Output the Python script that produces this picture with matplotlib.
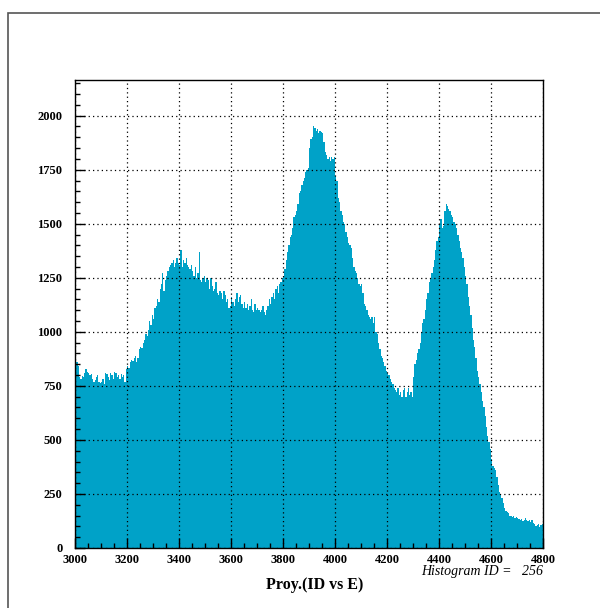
import numpy as np
import matplotlib.pyplot as plt
from matplotlib.patches import Rectangle

plt.rcParams["font.family"] = ["Liberation Serif", "DejaVu Serif"]

# histogram binning (5 units per bin, 3000 -> 4800)
x_min = 3000
x_max = 4800
bin_width = 5

# counts per bin, one row per 50 units
counts = [
    850, 860, 840, 790, 780, 795, 790, 810, 830, 815,        # 3000
    810, 800, 805, 780, 770, 775, 790, 800, 770, 765,        # 3050
    770, 780, 760, 810, 805, 790, 775, 810, 800, 780,        # 3100
    815, 810, 790, 800, 780, 805, 790, 800, 770, 830,        # 3150
    840, 835, 860, 870, 865, 880, 890, 860, 880, 920,        # 3200
    930, 925, 950, 960, 990, 980, 1010, 1050, 1030, 1080,    # 3250
    1060, 1110, 1120, 1150, 1140, 1200, 1220, 1270, 1190, 1240,  # 3300
    1260, 1280, 1300, 1310, 1320, 1330, 1300, 1320, 1340, 1320,  # 3350
    1310, 1380, 1300, 1330, 1320, 1340, 1310, 1300, 1290, 1310,  # 3400
    1280, 1260, 1300, 1250, 1270, 1370, 1240, 1230, 1250, 1260,  # 3450
    1230, 1250, 1240, 1200, 1250, 1210, 1190, 1200, 1230, 1180,  # 3500
    1170, 1190, 1180, 1150, 1190, 1170, 1140, 1150, 1110, 1120,  # 3550
    1160, 1140, 1120, 1150, 1180, 1140, 1160, 1170, 1130, 1110,  # 3600
    1140, 1110, 1130, 1100, 1120, 1150, 1100, 1090, 1130, 1100,  # 3650
    1110, 1100, 1090, 1100, 1120, 1090, 1080, 1100, 1120, 1150,  # 3700
    1130, 1160, 1180, 1150, 1200, 1210, 1180, 1220, 1230, 1250,  # 3750
    1260, 1290, 1330, 1370, 1400, 1440, 1450, 1480, 1530, 1540,  # 3800
    1560, 1590, 1640, 1650, 1680, 1700, 1710, 1740, 1750, 1760,  # 3850
    1850, 1890, 1900, 1950, 1945, 1930, 1940, 1920, 1930, 1925,  # 3900
    1920, 1880, 1830, 1820, 1800, 1810, 1790, 1810, 1800, 1810,  # 3950
    1720, 1700, 1620, 1600, 1560, 1540, 1510, 1500, 1460, 1440,  # 4000
    1410, 1400, 1390, 1340, 1300, 1280, 1270, 1250, 1220, 1210,  # 4050
    1220, 1180, 1130, 1120, 1100, 1080, 1070, 1060, 1070, 1040,  # 4100
    1070, 1000, 990, 950, 920, 890, 880, 860, 840, 820,          # 4150
    810, 800, 780, 770, 760, 740, 730, 720, 740, 710,            # 4200
    720, 700, 730, 740, 700, 720, 740, 710, 720, 700,            # 4250
    790, 850, 870, 900, 920, 950, 1000, 1040, 1060, 1100,        # 4300
    1150, 1180, 1230, 1250, 1270, 1300, 1330, 1380, 1420, 1440,  # 4350
    1500, 1520, 1480, 1490, 1560, 1590, 1580, 1570, 1560, 1540,  # 4400
    1530, 1510, 1500, 1480, 1450, 1420, 1390, 1370, 1340, 1300,  # 4450
    1260, 1220, 1160, 1120, 1080, 1020, 960, 930, 880, 820,      # 4500
    790, 760, 720, 680, 650, 610, 560, 520, 490, 460,            # 4550
    410, 380, 370, 360, 330, 290, 260, 245, 230, 210,            # 4600
    185, 170, 165, 160, 150, 150, 145, 150, 140, 145,            # 4650
    140, 135, 130, 135, 125, 130, 140, 130, 125, 130,            # 4700
    120, 130, 115, 110, 100, 105, 110, 95, 105, 110,             # 4750
]
edges = np.arange(x_min, x_max + bin_width, bin_width)

x_ticks = [3000, 3200, 3400, 3600, 3800, 4000, 4200, 4400, 4600, 4800]
y_ticks = [0, 250, 500, 750, 1000, 1250, 1500, 1750, 2000]
y_top = 2165

fig = plt.figure(figsize=(6, 6.08), dpi=100)

# canvas frame
fig.patches.append(Rectangle((8 / 600, -0.01), 1.0, 1 - 13 / 608 + 0.01,
                             transform=fig.transFigure, fill=False,
                             edgecolor='#555555', linewidth=1.2))

ax = fig.add_axes([75 / 600, 60 / 608, 468 / 600, 468 / 608])
ax.stairs(counts, edges, fill=True, color='#00a2c8', linewidth=0)

ax.set_xlim(x_min, x_max)
ax.set_ylim(0, y_top)
ax.set_xticks(x_ticks)
ax.set_yticks(y_ticks)
ax.set_xticks(np.arange(x_min, x_max + 1, 50), minor=True)
ax.set_yticks(np.arange(0, y_top, 50), minor=True)
ax.tick_params(which='both', direction='in', width=1.0, colors='black')
ax.tick_params(which='major', length=7)
ax.tick_params(which='minor', length=3.5)
ax.tick_params(axis='y', pad=9)
ax.tick_params(axis='x', pad=4)
for lbl in ax.get_xticklabels() + ax.get_yticklabels():
    lbl.set_fontweight('bold')
    lbl.set_fontsize(9)

ax.grid(True, which='major', linestyle=(0, (1, 2.5)), color='black', linewidth=0.9)
ax.set_axisbelow(False)
for s in ax.spines.values():
    s.set_linewidth(1.0)

fig.text(315 / 600, 1 - 585 / 608, "Proy.(ID vs E)", ha='center', va='center',
         fontsize=11.5, fontweight='bold')
fig.text(543 / 600, 1 - 572 / 608, "Histogram ID =   256", ha='right', va='center',
         fontsize=10, style='italic')

fig.savefig("out.png", dpi=100)
